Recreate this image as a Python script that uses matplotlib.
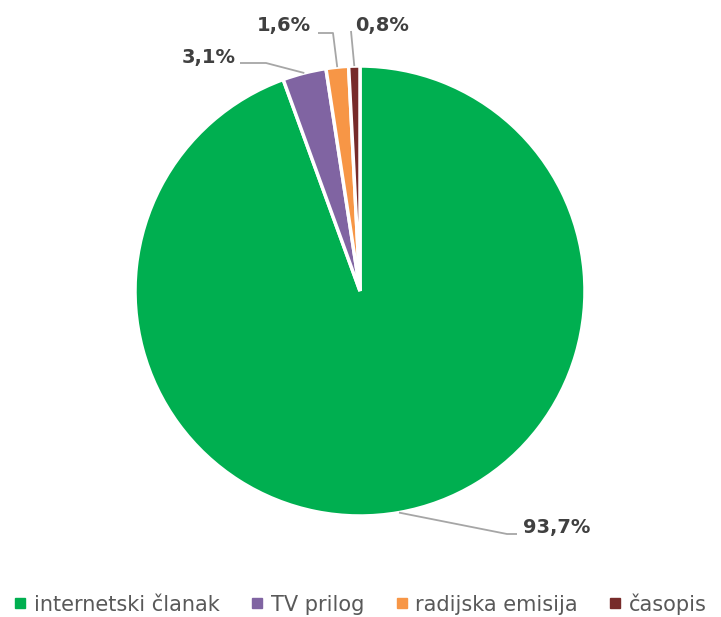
import numpy as np
import matplotlib.pyplot as plt
from matplotlib.lines import Line2D

categories = ["internetski članak", "TV prilog", "radijska emisija", "časopis"]
shares = [93.7, 3.1, 1.6, 0.8]
colors = ["#00AF50", "#8064A2", "#F79646", "#772B2A"]

W, H = 721, 617
fig = plt.figure(figsize=(W / 100, H / 100), dpi=100)
ax = fig.add_axes([0, 0, 1, 1])
ax.set_xlim(0, W)
ax.set_ylim(0, H)
ax.set_aspect("equal")
ax.axis("off")

cx, cy, r = 360, H - 291, 225
wedges, _ = ax.pie(shares, colors=colors, startangle=90, counterclock=False,
                   center=(cx, cy), radius=r,
                   wedgeprops=dict(edgecolor="white", linewidth=2.5))
ax.set_xlim(0, W)
ax.set_ylim(0, H)

# label text position, elbow of the leader line, text alignment
label_pos = [
    ((523, H - 527), (517, H - 534), (507, H - 534), "left"),
    ((236, H - 57), (240, H - 63), (266, H - 63), "right"),
    ((311, H - 25), (318, H - 33), (333, H - 33), "right"),
    ((355, H - 25), (351, H - 31), (351, H - 31), "left"),
]
for w, val, (tpos, p0, p1, ha) in zip(wedges, shares, label_pos):
    mid = np.deg2rad((w.theta1 + w.theta2) / 2)
    ex, ey = cx + r * np.cos(mid), cy + r * np.sin(mid)
    ax.plot([p0[0], p1[0], ex], [p0[1], p1[1], ey], color="#A6A6A6", lw=1.3,
            solid_capstyle="butt", zorder=1)
    ax.text(tpos[0], tpos[1], f"{val:.1f}%".replace(".", ","), ha=ha, va="center",
            fontsize=14, fontweight="bold", color="#404040")

handles = [Line2D([], [], marker="s", linestyle="none", markersize=6.5,
                  markerfacecolor=c, markeredgecolor=c) for c in colors]
fig.legend(handles, categories, loc="center", bbox_to_anchor=(0.5, (H - 604) / H),
           ncol=4, frameon=False, fontsize=15, handlelength=0.6, handletextpad=0.35,
           columnspacing=1.5, labelcolor="#595959")

fig.savefig("out.png", dpi=100)
